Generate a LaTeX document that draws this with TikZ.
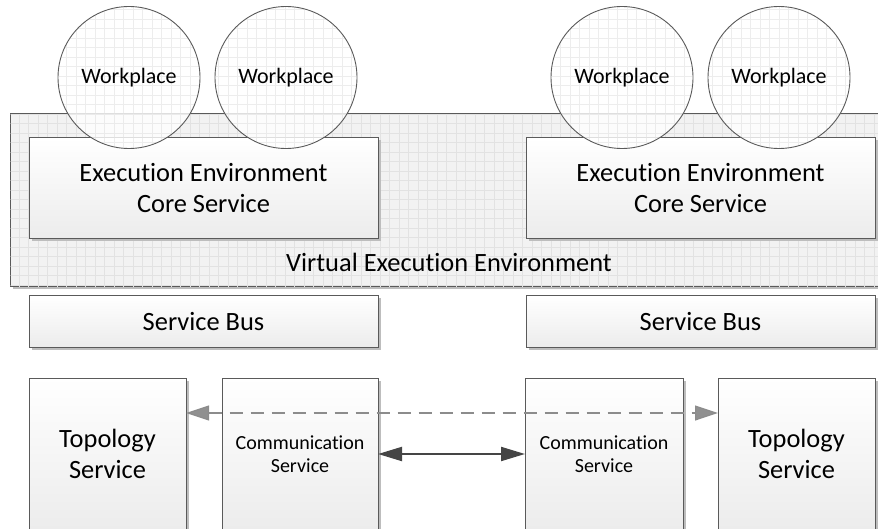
\documentclass[tikz,border=0pt]{standalone}
\usepackage{fontspec}
\setmainfont{Carlito}[Ligatures=NoCommon]
\usetikzlibrary{arrows.meta,shadows}
\definecolor{edgecol}{HTML}{5A5A5A}
\definecolor{gridcol}{HTML}{E2E2E2}
\definecolor{veefill}{HTML}{F2F2F2}
\definecolor{boxlow}{HTML}{ECECEC}
\definecolor{shadowcol}{HTML}{BDBDBD}
\definecolor{dashcol}{HTML}{8C8C8C}
\definecolor{tipcol}{HTML}{909090}
\definecolor{solidcol}{HTML}{454545}
\tikzset{
  boxstyle/.style={draw=edgecol, line width=1pt, anchor=north west, inner sep=0pt, outer sep=0pt,
    top color=white, bottom color=boxlow, align=center,
    drop shadow={shadow xshift=2.5pt, shadow yshift=-2.5pt, fill=shadowcol, opacity=1}},
  veestyle/.style={draw=edgecol, line width=1pt, anchor=north west, inner sep=0pt, outer sep=0pt,
    fill=veefill,
    drop shadow={shadow xshift=2.5pt, shadow yshift=-2.5pt, fill=shadowcol, opacity=1}},
  circstyle/.style={circle, draw=edgecol, line width=0.9pt, minimum size=142pt, inner sep=0pt, outer sep=0pt,
    font=\fontsize{22}{26}\selectfont},
  gridline/.style={draw=gridcol, line width=0.35pt},
  bigtext/.style={font=\fontsize{26.4}{31}\selectfont},
  smalltext/.style={font=\fontsize{20}{23.5}\selectfont},
  dasharrow/.style={draw=dashcol, line width=1.2pt, dash pattern=on 13pt off 8pt,
    {Triangle[length=23pt,width=15pt,fill=tipcol]}-{Triangle[length=23pt,width=15pt,fill=tipcol]}},
  solidarrow/.style={draw=solidcol, line width=2pt,
    {Triangle[length=24pt,width=14pt]}-{Triangle[length=24pt,width=14pt]}}
}
\begin{document}
\begin{tikzpicture}[x=1pt,y=-1pt]
\useasboundingbox (0,0) rectangle (878,529);
\clip (0,0) rectangle (878,529);

% Virtual execution environment
\node[veestyle, minimum width=890pt, minimum height=173pt] (vee) at (10,114) {};
\begin{scope}
  \clip (10.5,114.5) rectangle (899,286.5);
  \draw[gridline, step=9.5pt] (0,100) grid (900,300);
\end{scope}

% Core service boxes
\node[boxstyle, bigtext, minimum width=349pt, minimum height=101pt] (coreL) at (29,138) {Execution Environment\\Core Service};
\node[boxstyle, bigtext, minimum width=349pt, minimum height=101pt] (coreR) at (526,138) {Execution Environment\\Core Service};

% Workplaces
\foreach \nm/\cx in {wpA/129, wpB/286, wpC/622, wpD/779}{
  \fill[white, fill opacity=0.8] (\cx,77.5) circle[radius=71pt];
  \begin{scope}
    \clip (\cx,77.5) circle[radius=70.5pt];
    \draw[gridline, draw opacity=0.6, step=9.5pt] (0,0) grid (878,160);
  \end{scope}
  \node[circstyle] (\nm) at (\cx,77.5) {Workplace};
}

\node[bigtext] (veetext) at (449,262) {Virtual Execution Environment};

% Service buses
\node[boxstyle, bigtext, minimum width=349pt, minimum height=51pt] (busL) at (29,296) {Service Bus};
\node[boxstyle, bigtext, minimum width=349pt, minimum height=51pt] (busR) at (526,296) {Service Bus};

% Bottom row
\node[boxstyle, bigtext, minimum width=157pt, minimum height=152pt] (topoL) at (29,378) {Topology\\Service};
\node[boxstyle, smalltext, minimum width=156pt, minimum height=152pt] (commL) at (222,378) {Communication\\Service};
\node[boxstyle, smalltext, minimum width=158pt, minimum height=152pt] (commR) at (525,378) {Communication\\Service};
\node[boxstyle, bigtext, minimum width=157pt, minimum height=152pt] (topoR) at (718,378) {Topology\\Service};

% Connectors
\draw[dasharrow] ([yshift=41pt]topoL.east) -- ([yshift=41pt]topoR.west);
\draw[solidarrow] (commL.east) -- (commR.west);
\end{tikzpicture}
\end{document}
